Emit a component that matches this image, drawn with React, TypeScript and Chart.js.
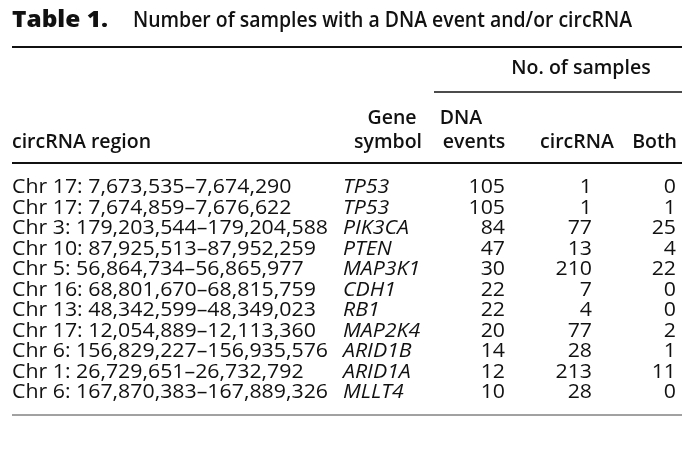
import React, { useEffect, useRef } from "react";
import { Chart, registerables } from "chart.js";

Chart.register(...registerables);

const titleLabel = "Table 1.";
const titleText = "Number of samples with a DNA event and/or circRNA";
const groupHeader = "No. of samples";
const regionHeader = ["circRNA region"];
const geneHeader = ["Gene", "symbol"];
const dnaHeader = ["DNA", "events"];
const circHeader = ["circRNA"];
const bothHeader = ["Both"];

const regions = [
  "Chr 17: 7,673,535–7,674,290",
  "Chr 17: 7,674,859–7,676,622",
  "Chr 3: 179,203,544–179,204,588",
  "Chr 10: 87,925,513–87,952,259",
  "Chr 5: 56,864,734–56,865,977",
  "Chr 16: 68,801,670–68,815,759",
  "Chr 13: 48,342,599–48,349,023",
  "Chr 17: 12,054,889–12,113,360",
  "Chr 6: 156,829,227–156,935,576",
  "Chr 1: 26,729,651–26,732,792",
  "Chr 6: 167,870,383–167,889,326",
];
const genes = ["TP53", "TP53", "PIK3CA", "PTEN", "MAP3K1", "CDH1", "RB1", "MAP2K4", "ARID1B", "ARID1A", "MLLT4"];
const dnaEvents = [105, 105, 84, 47, 30, 22, 22, 20, 14, 12, 10];
const circRNA = [1, 1, 77, 13, 210, 7, 4, 77, 28, 213, 28];
const both = [0, 1, 25, 4, 22, 0, 0, 2, 1, 11, 0];

const FONT = '"Open Sans", "Noto Sans", sans-serif';
const INK = "#111111";

const tablePlugin = {
  id: "tableDraw",
  afterDraw(chart: any) {
    const ctx = chart.ctx as CanvasRenderingContext2D;
    const xs = chart.scales.x;
    const ys = chart.scales.y;
    const X = (v: number) => xs.getPixelForValue(v);
    const Y = (v: number) => ys.getPixelForValue(v);
    ctx.save();
    ctx.fillStyle = INK;
    ctx.textBaseline = "alphabetic";

    const text = (s: string, x: number, y: number, font: string, align: CanvasTextAlign, sx = 1) => {
      ctx.save();
      ctx.font = font;
      ctx.textAlign = align;
      ctx.translate(X(x), Y(y));
      ctx.scale(sx, 1);
      ctx.fillText(s, 0, 0);
      ctx.restore();
    };
    const widthOf = (s: string, font: string) => {
      ctx.font = font;
      return ctx.measureText(s).width;
    };
    const hline = (x1: number, x2: number, y: number, w: number, color: string) => {
      ctx.beginPath();
      ctx.strokeStyle = color;
      ctx.lineWidth = w;
      ctx.moveTo(X(x1), Y(y));
      ctx.lineTo(X(x2), Y(y));
      ctx.stroke();
    };

    // title
    const titleBold = `800 22px ${FONT}`;
    const titleReg = `600 22px ${FONT}`;
    const sxLabel = 96 / widthOf(titleLabel, titleBold);
    const sxTitle = 499 / widthOf(titleText, titleReg);
    text(titleLabel, 12, 27, titleBold, "left", sxLabel);
    text(titleText, 133, 27, titleReg, "left", sxTitle);
    hline(12, 682, 47, 2, INK);

    // group header
    const hdr = `600 19.5px ${FONT}`;
    text(groupHeader, 581, 74, hdr, "center");
    hline(434, 682, 92, 1.5, INK);

    // column headers
    text(regionHeader[0], 12, 148, hdr, "left");
    text(geneHeader[0], 392, 124, hdr, "center");
    text(geneHeader[1], 388, 148, hdr, "center");
    text(dnaHeader[0], 461, 124, hdr, "center");
    text(dnaHeader[1], 474, 148, hdr, "center");
    text(circHeader[0], 577, 148, hdr, "center");
    text(bothHeader[0], 677, 148, hdr, "right");
    hline(12, 682, 163, 2, INK);

    // body rows
    const body = `19.5px ${FONT}`;
    const ital = `italic 19.5px ${FONT}`;
    const sxBody = Math.min(1.1, 316 / widthOf(regions[2], body));
    const rowTop = 193;
    const rowStep = 20.5;
    regions.forEach((r, i) => {
      const y = rowTop + i * rowStep;
      text(r, 12, y, body, "left", sxBody);
      text(genes[i], 343, y, ital, "left", sxBody);
      text(String(dnaEvents[i]), 505, y, body, "right", sxBody);
      text(String(circRNA[i]), 592, y, body, "right", sxBody);
      text(String(both[i]), 676, y, body, "right", sxBody);
    });
    hline(12, 682, rowTop + 10 * rowStep + 17, 1, "#444444");
    ctx.restore();
  },
};

export default function App() {
  const ref = useRef<HTMLCanvasElement | null>(null);
  useEffect(() => {
    document.body.style.margin = "0";
    const chart = new Chart(ref.current as HTMLCanvasElement, {
      type: "scatter",
      data: { datasets: [{ data: [] }] },
      options: {
        animation: false,
        responsive: false,
        maintainAspectRatio: false,
        layout: { padding: 0 },
        plugins: { legend: { display: false }, tooltip: { enabled: false } },
        scales: {
          x: { type: "linear", min: 0, max: 690, display: false },
          y: { type: "linear", min: 0, max: 467, reverse: true, display: false },
        },
      },
      plugins: [tablePlugin],
    });
    return () => chart.destroy();
  }, []);
  return (
    <div style={{ position: "absolute", left: 0, top: 0, width: 690, height: 467, background: "#fff" }}>
      <canvas ref={ref} width={690} height={467} style={{ width: 690, height: 467 }} />
    </div>
  );
}
